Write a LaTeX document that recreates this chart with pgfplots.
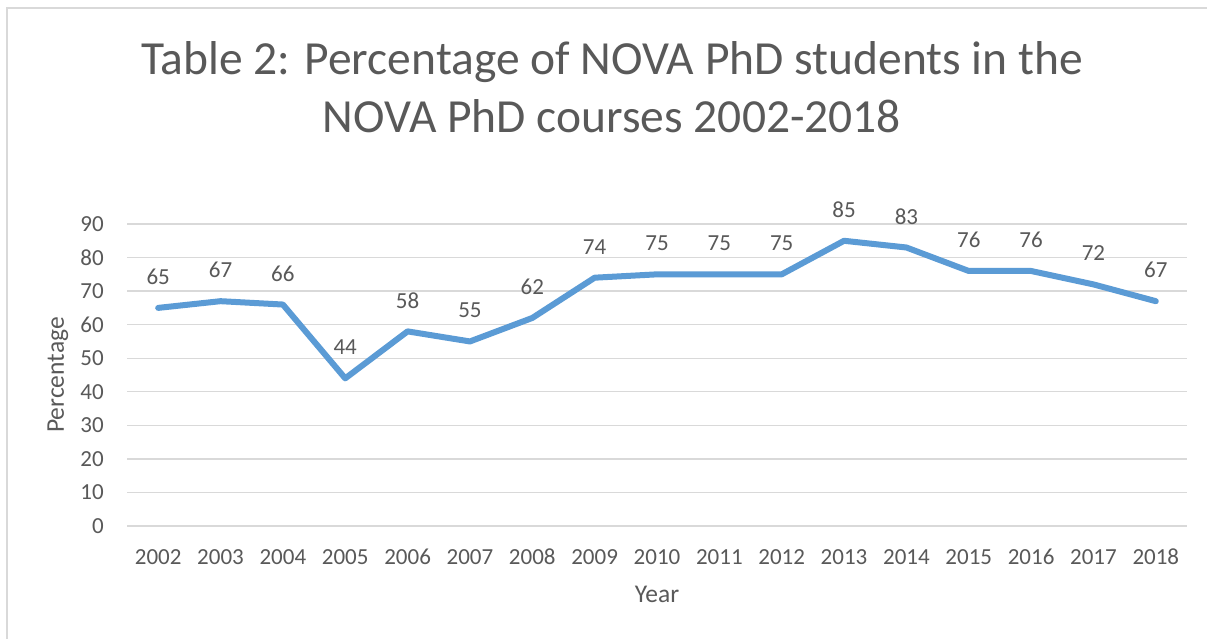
\documentclass[border=0pt]{standalone}
\usepackage{fontspec}
\setmainfont{Carlito}
\usepackage{pgfplots}
\pgfplotsset{compat=1.18}
\definecolor{txt}{HTML}{595959}
\definecolor{gridc}{HTML}{D9D9D9}
\definecolor{lineb}{HTML}{5B9BD5}
\begin{document}
\begin{tikzpicture}[x=1pt,y=1pt]
\useasboundingbox (0,0) rectangle (1207,639);
\fill[white] (0,0) rectangle (1207,639);
\draw[gridc, line width=1.5pt] (7,0) -- (7,631) -- (1207,631);
\node[anchor=base, text=txt, font=\fontsize{47.5}{57}\selectfont] at (612,564) {Table 2: Percentage of NOVA PhD students in the};
\node[anchor=base, text=txt, font=\fontsize{47.5}{57}\selectfont] at (612,506) {NOVA PhD courses 2002-2018};
\begin{axis}[
  at={(127pt,113pt)}, anchor=south west,
  scale only axis, width=1060pt, height=302pt,
  xmin=-0.5, xmax=16.5, ymin=0, ymax=90,
  xtick={0,...,16},
  xticklabels={2002,2003,2004,2005,2006,2007,2008,2009,2010,2011,2012,2013,2014,2015,2016,2017,2018},
  ytick={0,10,...,90},
  ymajorgrids, major grid style={gridc, line width=1.3pt},
  axis line style={draw=none},
  major tick length=0pt,
  /pgf/number format/assume math mode=true,
  tick label style={text=txt, font=\fontsize{23}{27}\selectfont},
  yticklabel style={anchor=east, inner sep=0pt, xshift=-23pt},
  xticklabel style={anchor=base, inner sep=0pt, yshift=-39pt},
  every axis y label/.style={at={(rel axis cs:0,0.5)}, rotate=90, anchor=center, yshift=69pt, text=txt, font=\fontsize{25.5}{30}\selectfont},
  every axis x label/.style={at={(rel axis cs:0.5,0)}, anchor=base, yshift=-77pt, text=txt, font=\fontsize{25.5}{30}\selectfont},
  ylabel={Percentage}, xlabel={Year},
  clip=false,
  nodes near coords,
  every node near coord/.append style={anchor=center, yshift=31pt, text=txt, font=\fontsize{23}{27}\selectfont},
]
\addplot[lineb, line width=6pt, line join=round, line cap=round, mark=none] coordinates {
(0,65) (1,67) (2,66) (3,44) (4,58) (5,55) (6,62) (7,74) (8,75) (9,75) (10,75) (11,85) (12,83) (13,76) (14,76) (15,72) (16,67)
};
\end{axis}
\end{tikzpicture}
\end{document}
